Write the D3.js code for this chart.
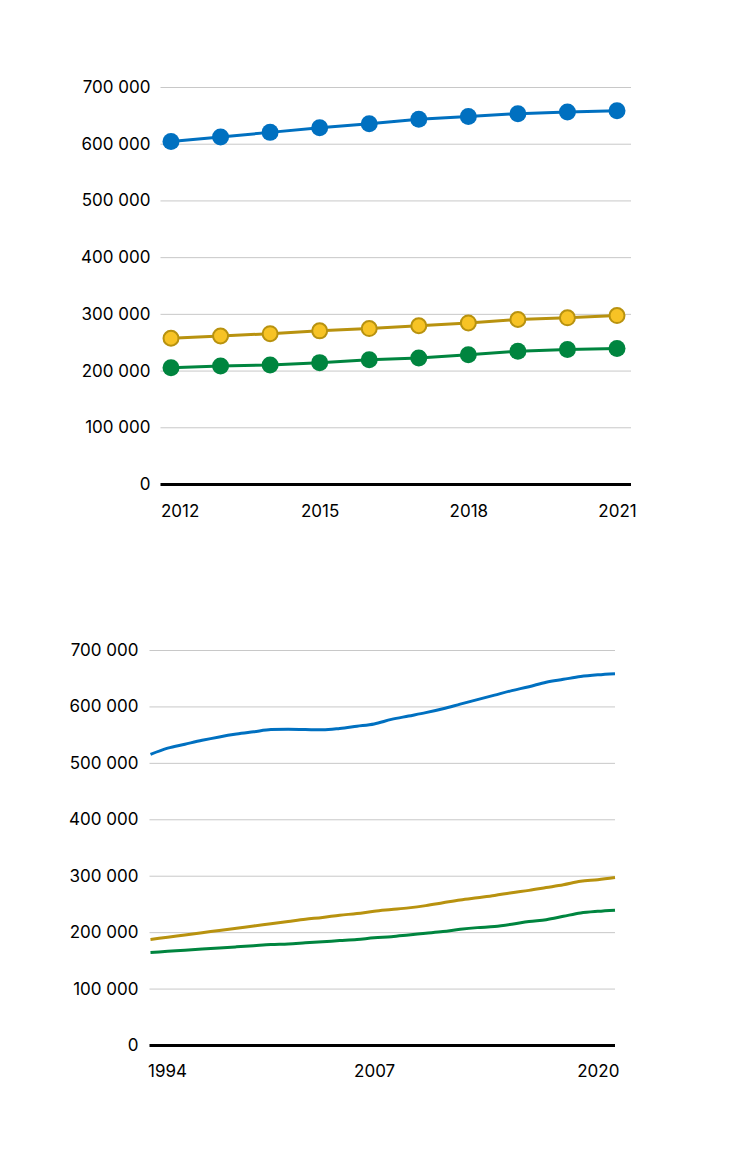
<!DOCTYPE html>
<html><head><meta charset="utf-8">
<script src="https://cdn.jsdelivr.net/npm/d3@7"></script>
<style>
html,body{margin:0;padding:0;background:#fff;}
svg{display:block;}
text{font-family:Inter,"Noto Sans",sans-serif;fill:#000;}
</style></head>
<body>
<svg id="c" width="735" height="1158"></svg>
<script>
// ---- Data: chart 1 (2012–2021, with markers)
const years1 = [2012,2013,2014,2015,2016,2017,2018,2019,2020,2021];
const blue1   = [604000,612000,620000,628000,635000,643000,648000,653000,656000,658000];
const yellow1 = [257000,261000,265000,270000,274000,279000,284000,290000,293000,297000];
const green1  = [205000,208000,210000,214000,219000,222000,228000,234000,237000,239000];
const xTicks1 = [2012,2015,2018,2021];

// ---- Data: chart 2 (1994–2021, lines)
const years2 = [1994,1995,1996,1997,1998,1999,2000,2001,2002,2003,2004,2005,2006,2007,2008,2009,2010,2011,2012,2013,2014,2015,2016,2017,2018,2019,2020,2021];
const blue2   = [515000,526000,533000,540000,546000,551000,555000,559000,559500,559000,558500,561000,565000,569000,577000,583000,589000,596000,604000,612000,620000,628000,635000,643000,648000,653000,656000,658000];
const yellow2 = [187000,191000,195000,199000,203000,207000,211000,215000,219000,223000,226000,230000,233000,237000,240000,243000,247000,252000,257000,261000,265000,270000,274000,279000,284000,290000,293000,297000];
const green2  = [164000,166000,168000,170000,172000,174000,176000,178000,179000,181000,183000,185000,187000,190000,192000,195000,198000,201000,205000,208000,210000,214000,219000,222000,228000,234000,237000,239000];
const xTicks2 = [1994,2007,2020];

const yTicks = [0,100000,200000,300000,400000,500000,600000,700000];

const COL = {blue:"#0070c0", yellowLine:"#b8920f", yellowFill:"#f7c325", green:"#00853f", grid:"#c8c8c8"};
const fmt = d3.formatLocale({decimal:",", thousands:"\u00a0", grouping:[3], currency:["",""]}).format(",");

const svg = d3.select("#c");

function drawChart(cfg){
  const g = svg.append("g");
  const y = d3.scaleLinear().domain([0,700000]).range([cfg.y0, cfg.y1]);
  const x = d3.scaleLinear().domain(cfg.xDomain).range(cfg.xRange);

  // gridlines + y labels
  const ya = d3.axisLeft(y).tickValues(yTicks).tickSize(-(cfg.plotR-cfg.plotL)).tickPadding(cfg.labelGap).tickFormat(fmt);
  const yg = g.append("g").attr("transform",`translate(${cfg.plotL},0)`).call(ya);
  yg.select(".domain").remove();
  yg.selectAll(".tick line").attr("stroke",COL.grid).attr("stroke-width",1);
  yg.selectAll(".tick text").attr("font-size",17).attr("fill","#000").attr("font-family","Inter, sans-serif");
  yg.selectAll(".tick").filter(d=>d===0).select("line").attr("stroke","#000").attr("stroke-width",3);

  // x labels
  const xa = d3.axisBottom(x).tickValues(cfg.xTicks).tickSize(0).tickPadding(0).tickFormat(d3.format("d"));
  const xg = g.append("g").attr("transform",`translate(0,${cfg.y0})`).call(xa);
  xg.select(".domain").remove();
  xg.selectAll(".tick text").attr("font-size",17).attr("fill","#000").attr("font-family","Inter, sans-serif")
    .attr("dy",null).attr("y",cfg.xLabelDy);
  xg.selectAll(".tick").filter((d,i)=>i===0).select("text")
    .attr("text-anchor","start").attr("x", cfg.plotL - x(cfg.xTicks[0]) + cfg.firstShift);

  const series = [
    {v:cfg.blue, stroke:COL.blue, fill:COL.blue, r:8.5, sw:0},
    {v:cfg.yellow, stroke:COL.yellowLine, fill:COL.yellowFill, r:7.5, sw:2},
    {v:cfg.green, stroke:COL.green, fill:COL.green, r:8.5, sw:0}
  ];
  const line = d3.line().x((d,i)=>x(cfg.years[i])).y(d=>y(d));
  if(cfg.smooth) line.curve(d3.curveMonotoneX);
  series.forEach(s=>{
    g.append("path").datum(s.v).attr("d",line).attr("fill","none")
      .attr("stroke",s.stroke).attr("stroke-width",3).attr("stroke-linejoin","round");
    if(cfg.markers){
      g.selectAll(null).data(s.v).join("circle")
        .attr("cx",(d,i)=>x(cfg.years[i])).attr("cy",d=>y(d)).attr("r",s.r)
        .attr("fill",s.fill).attr("stroke",s.sw?s.stroke:"none").attr("stroke-width",s.sw);
    }
  });
}

drawChart({years:years1, blue:blue1, yellow:yellow1, green:green1, xTicks:xTicks1,
  xDomain:[2012,2021], xRange:[171,617], plotL:160.5, plotR:631, y0:484, y1:87,
  labelGap:10, xLabelDy:33, firstShift:0, markers:true, smooth:false});

drawChart({years:years2, blue:blue2, yellow:yellow2, green:green2, xTicks:xTicks2,
  xDomain:[1994,2021], xRange:[150.5,615], plotL:149.5, plotR:615, y0:1045, y1:650,
  labelGap:11, xLabelDy:32, firstShift:-2, markers:false, smooth:true});
</script>
</body></html>
